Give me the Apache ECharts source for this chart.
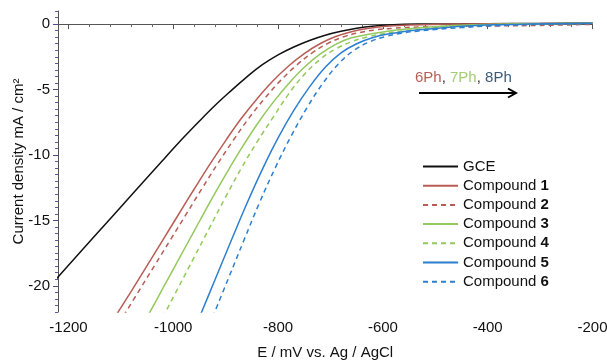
<!DOCTYPE html>
<html>
<head>
<meta charset="utf-8">
<script src="https://cdn.jsdelivr.net/npm/echarts@6/dist/echarts.min.js"></script>
<style>
  html, body { margin: 0; padding: 0; background: #fff; }
  #chart { width: 607px; height: 360px; }
</style>
</head>
<body>
<div id="chart"></div>
<script>
// potential E (mV vs Ag/AgCl) and current density J (mA/cm2)
const gceE = [-1225, -1150, -1075, -1020, -980, -950, -920, -890, -860, -830, -800, -770, -740, -710, -680, -650, -620, -580, -530, -450, -350, -200]
const gceJ = [-19.55, -16.2, -12.85, -10.4, -8.65, -7.4, -6.2, -5.1, -4.05, -3.1, -2.35, -1.75, -1.25, -0.85, -0.55, -0.32, -0.16, -0.05, 0, 0.02, 0.04, 0.08]

const c1E = [-1110, -1080, -1050, -1020, -990, -960, -930, -900, -870, -840, -810, -780, -750, -720, -690, -660, -630, -600, -560, -500, -400, -300, -200]
const c1J = [-22.3, -20.4, -18.45, -16.5, -14.55, -12.6, -10.7, -8.9, -7.2, -5.7, -4.35, -3.2, -2.25, -1.5, -0.95, -0.58, -0.34, -0.19, -0.08, -0.02, 0.02, 0.04, 0.08]

const c2E = [-1095, -1065, -1035, -1005, -975, -945, -915, -885, -855, -825, -795, -765, -735, -705, -675, -645, -615, -580, -530, -460, -380, -300, -200]
const c2J = [-22.3, -20.35, -18.4, -16.45, -14.5, -12.55, -10.65, -8.85, -7.15, -5.65, -4.3, -3.15, -2.2, -1.47, -0.97, -0.65, -0.45, -0.32, -0.22, -0.17, -0.14, -0.1, -0.02]

const c3E = [-1050, -1020, -990, -960, -930, -900, -870, -840, -810, -780, -750, -720, -690, -660, -630, -600, -570, -530, -480, -420, -350, -200]
const c3J = [-22.4, -20.2, -18.0, -15.8, -13.6, -11.5, -9.5, -7.65, -6.0, -4.55, -3.3, -2.3, -1.55, -1.05, -0.8, -0.6, -0.44, -0.28, -0.14, -0.05, 0, 0.06]

const c4E = [-1020, -990, -960, -930, -900, -870, -840, -810, -780, -750, -720, -690, -660, -630, -600, -570, -530, -480, -420, -350, -200]
const c4J = [-22.4, -20.1, -17.8, -15.5, -13.2, -11.0, -9.0, -7.15, -5.35, -3.85, -2.7, -1.9, -1.35, -0.98, -0.74, -0.56, -0.38, -0.2, -0.07, 0, 0.06]

const c5E = [-950, -920, -890, -860, -830, -800, -770, -740, -710, -680, -650, -620, -590, -560, -530, -490, -440, -390, -320, -200]
const c5J = [-22.4, -19.5, -16.6, -13.75, -11.1, -8.7, -6.6, -4.8, -3.3, -2.2, -1.5, -1.05, -0.76, -0.57, -0.44, -0.3, -0.15, -0.06, 0, 0.06]

const c6E = [-925, -895, -865, -835, -805, -775, -745, -715, -685, -655, -625, -595, -565, -535, -500, -450, -400, -340, -280, -200]
const c6J = [-22.4, -19.45, -16.5, -13.6, -10.95, -8.55, -6.4, -4.55, -3.05, -2.0, -1.35, -0.95, -0.7, -0.54, -0.41, -0.27, -0.15, -0.06, 0, 0.05]

const xTicks = [-1200, -1000, -800, -600, -400, -200]
const yTicks = [0, -5, -10, -15, -20]

const font = 'Liberation Sans, Arial, sans-serif'
const red = '#b85c55'
const green = '#93c95c'
const blue = '#2d7fd0'

// minor tick positions (every 40 mV / every 0.5 mA)
const xMinor = []
for (let v = -1200; v <= -200; v += 40) if (!xTicks.includes(v)) xMinor.push(v)
const yMinor = []
for (let v = -22; v <= 1; v += 0.5) if (!yTicks.includes(v)) yMinor.push(v)

const pairs = (xs, ys) => xs.map((x, i) => [x, ys[i]])

const makeSeries = (name, xs, ys, color, dashed) => ({
  name,
  type: 'line',
  data: pairs(xs, ys),
  xAxisIndex: 0,
  yAxisIndex: 0,
  smooth: 0.4,
  symbol: 'none',
  clip: true,
  lineStyle: { color, width: 1.5, type: dashed ? [5, 4] : 'solid' },
  itemStyle: { color },
})

const chart = echarts.init(document.getElementById('chart'))

chart.setOption({
  animation: false,
  textStyle: { fontFamily: font },
  grid: { left: 58, right: 14.5, top: 11, bottom: 48, containLabel: false, outerBoundsMode: 'none' },
  xAxis: [
    {
      type: 'value',
      min: -1220,
      max: -200,
      name: 'E / mV vs. Ag / AgCl',
      nameLocation: 'middle',
      nameGap: 33,
      nameTextStyle: { fontSize: 15, color: '#111', fontFamily: font },
      axisLine: { show: true, lineStyle: { color: '#555', width: 1 } },
      axisTick: { show: true, customValues: xTicks, length: 5, lineStyle: { color: '#555' } },
      axisLabel: { customValues: xTicks, fontSize: 15, color: '#111', margin: 8, fontFamily: font, formatter: (v) => String(v) },
      splitLine: { show: false },
    },
    {
      type: 'value',
      min: -1220,
      max: -200,
      position: 'bottom',
      axisLine: { show: false },
      axisTick: { show: true, customValues: xMinor, length: 3, lineStyle: { color: '#666' } },
      axisLabel: { show: false },
      splitLine: { show: false },
    },
  ],
  yAxis: [
    {
      type: 'value',
      min: -22,
      max: 1,
      name: 'Current density mA / cm²',
      nameLocation: 'middle',
      nameGap: 32,
      nameMoveOverlap: false,
      nameTextStyle: { fontSize: 15, color: '#111', fontFamily: font },
      axisLine: { show: true, lineStyle: { color: '#555', width: 1 } },
      axisTick: { show: true, customValues: yTicks, length: 5, lineStyle: { color: '#4a4a8c' } },
      axisLabel: { customValues: yTicks, fontSize: 15, color: '#111', margin: 8, fontFamily: font, formatter: (v) => String(v) },
      splitLine: { show: false },
    },
    {
      type: 'value',
      min: -22,
      max: 1,
      position: 'left',
      axisLine: { show: false },
      axisTick: { show: true, customValues: yMinor, length: 3, lineStyle: { color: '#5a5a9a' } },
      axisLabel: { show: false },
      splitLine: { show: false },
    },
  ],
  legend: {
    orient: 'vertical',
    left: 422,
    top: 159,
    itemWidth: 35,
    itemHeight: 14,
    itemGap: 4.2,
    backgroundColor: '#fff',
    padding: 0,
    itemStyle: { opacity: 0 },
    textStyle: {
      fontSize: 15,
      color: '#111',
      fontFamily: font,
      lineHeight: 14,
      rich: { b: { fontSize: 15, fontWeight: 'bold', color: '#111', fontFamily: font, lineHeight: 14 } },
    },
    formatter: (name) => (name === 'GCE' ? name : name.replace(/(\d)$/, '{b|$1}')),
    data: ['GCE', 'Compound 1', 'Compound 2', 'Compound 3', 'Compound 4', 'Compound 5', 'Compound 6'],
  },
  graphic: [
    {
      type: 'text',
      left: 415,
      top: 70,
      style: {
        text: '{r|6Ph}, {g|7Ph}, {b|8Ph}',
        fill: '#333',
        font: '15px ' + font,
        rich: {
          r: { fill: red, font: '15px ' + font },
          g: { fill: '#a3cc74', font: '15px ' + font },
          b: { fill: '#3b5a7a', font: '15px ' + font },
        },
      },
    },
    {
      type: 'line',
      shape: { x1: 419, y1: 93, x2: 515, y2: 93 },
      style: { stroke: '#000', lineWidth: 2 },
    },
    {
      type: 'polyline',
      shape: { points: [[508, 88.5], [516, 93], [508, 97.5]] },
      style: { stroke: '#000', lineWidth: 2, fill: null },
    },
  ],
  series: [
    makeSeries('GCE', gceE, gceJ, '#111', false),
    makeSeries('Compound 1', c1E, c1J, red, false),
    makeSeries('Compound 2', c2E, c2J, red, true),
    makeSeries('Compound 3', c3E, c3J, green, false),
    makeSeries('Compound 4', c4E, c4J, green, true),
    makeSeries('Compound 5', c5E, c5J, blue, false),
    makeSeries('Compound 6', c6E, c6J, blue, true),
  ],
})
</script>
</body>
</html>
